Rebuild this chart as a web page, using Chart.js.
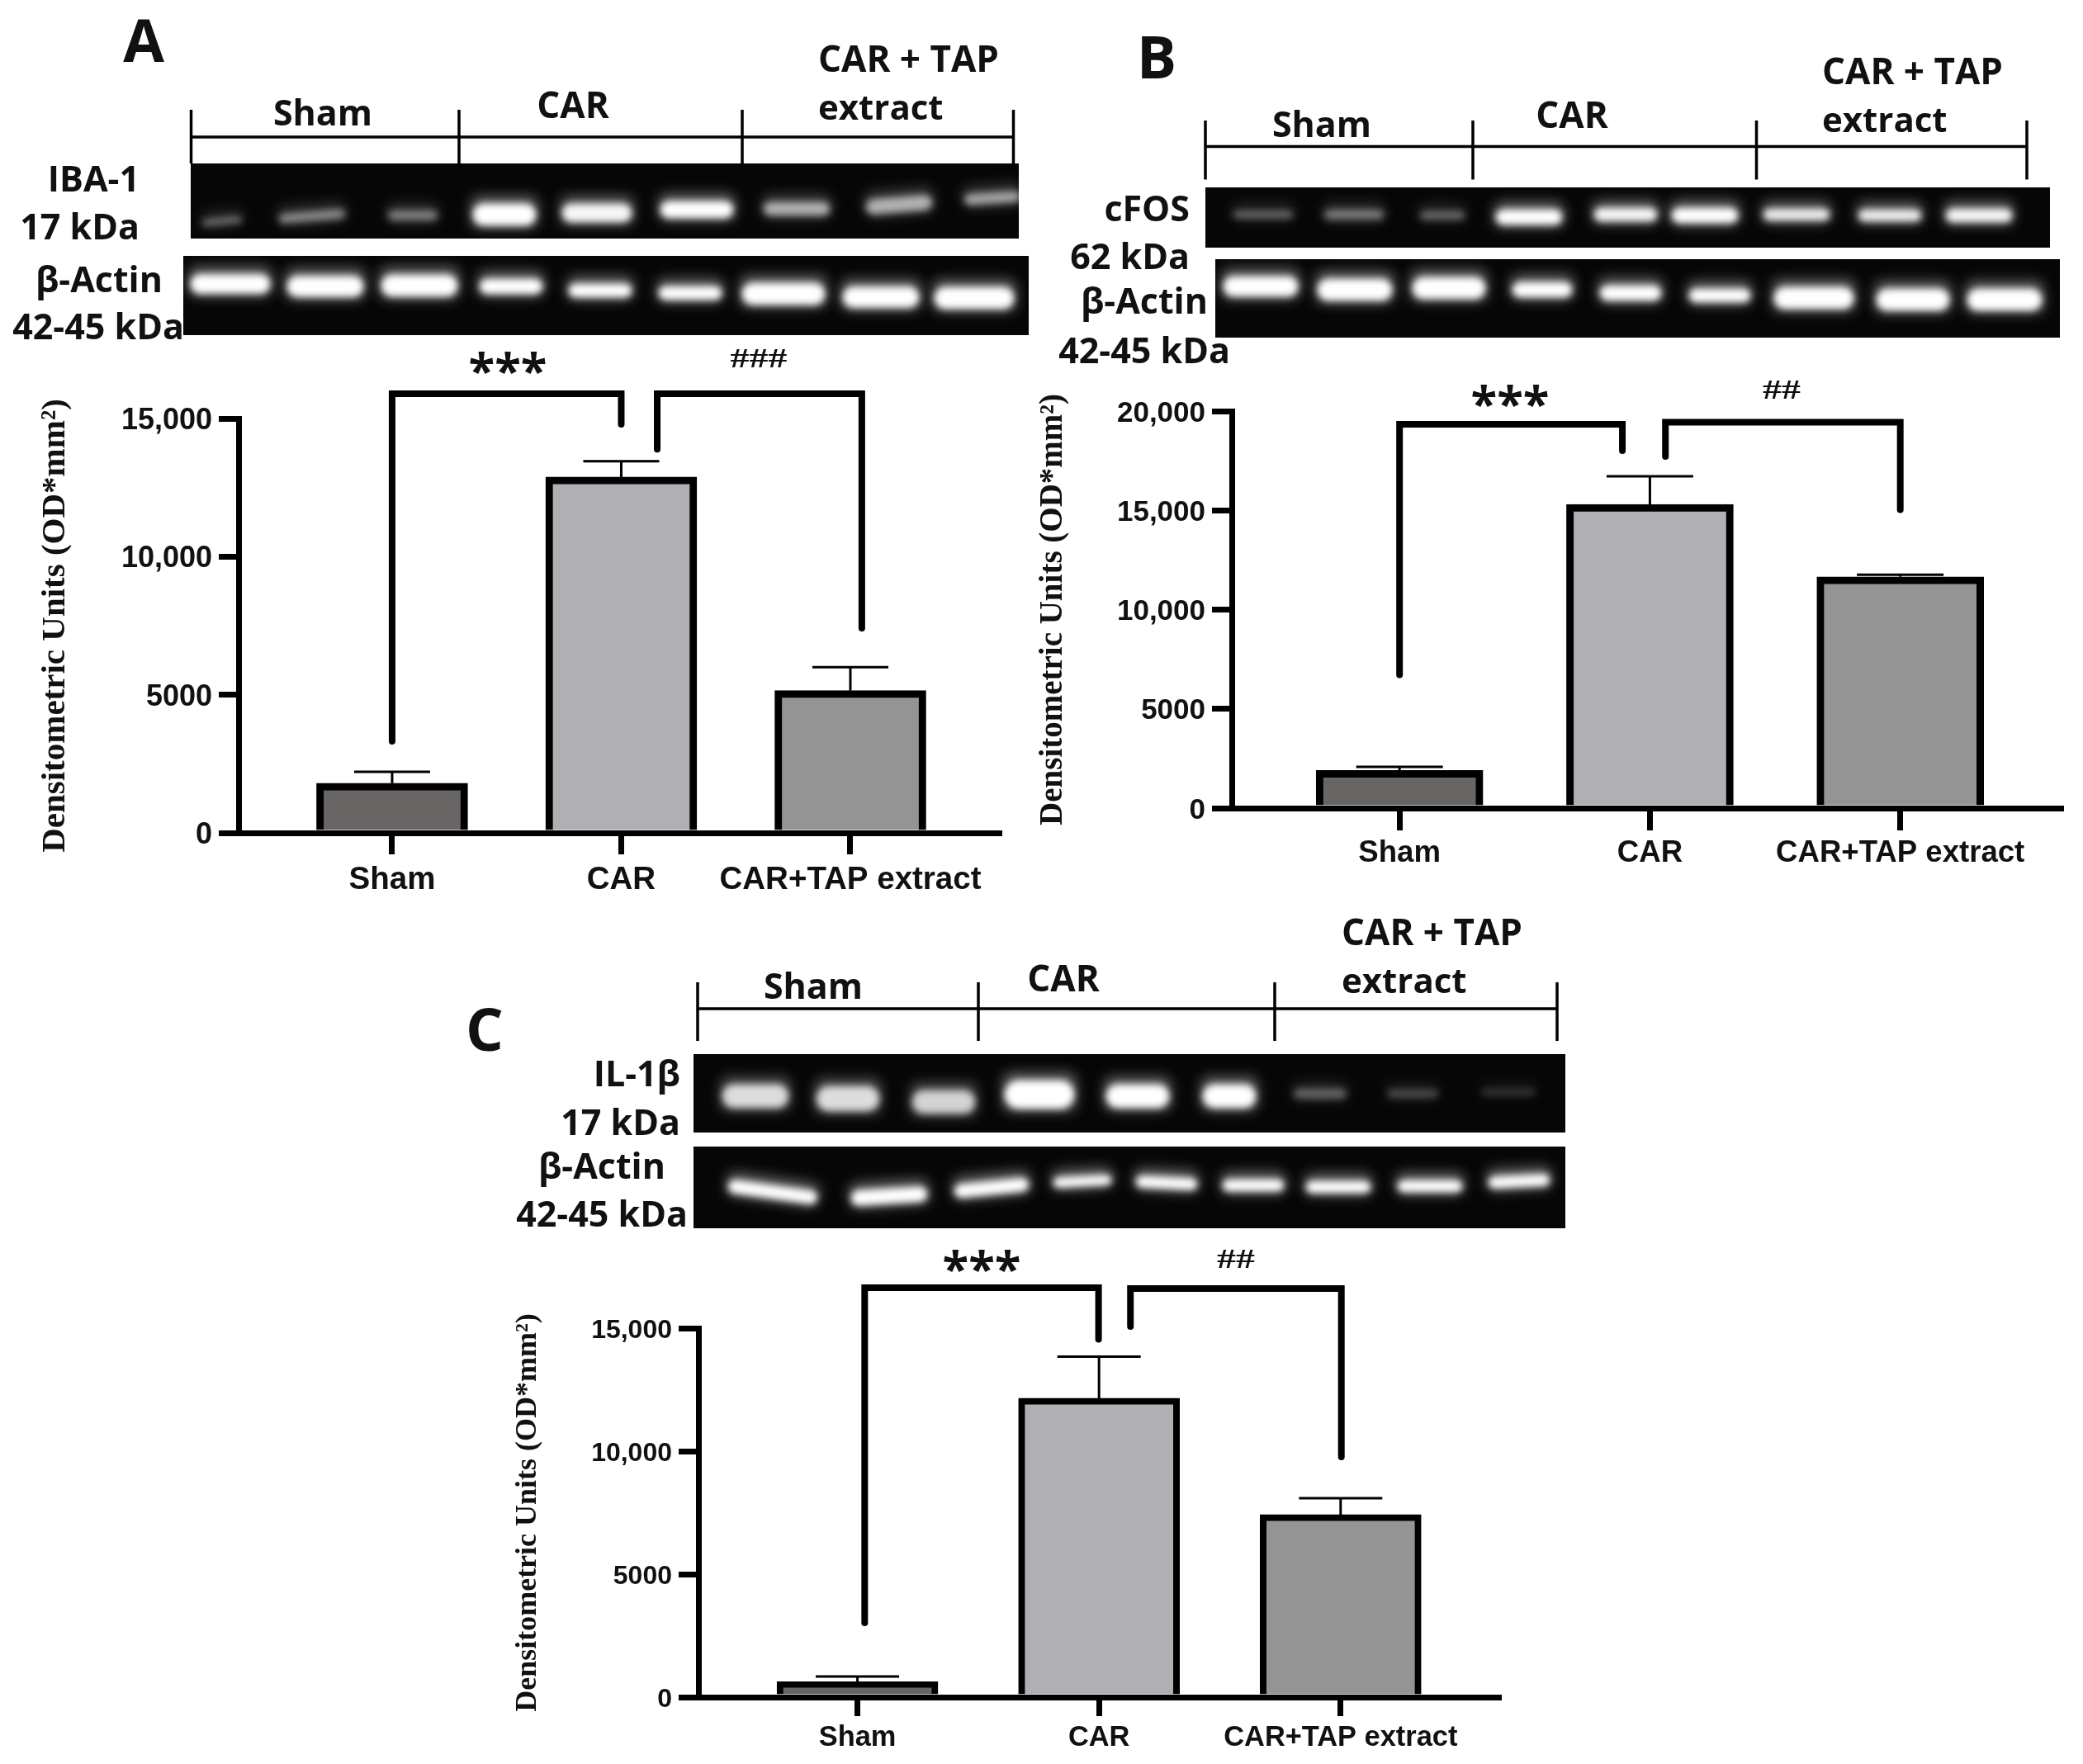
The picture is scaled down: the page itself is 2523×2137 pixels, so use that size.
<!DOCTYPE html>
<html>
<head>
<meta charset="utf-8">
<title>Densitometric units</title>
<script src="https://cdn.jsdelivr.net/npm/chart.js@4"></script>
<style>
  html, body { margin: 0; padding: 0; background: #fff; }
  #page { position: relative; width: 2523px; height: 2137px; overflow: hidden; background: #fff; }
  #page canvas { position: absolute; }
  .lbl { position: absolute; white-space: nowrap; color: #111; font-family: "Open Sans", sans-serif; font-weight: 700; line-height: 1; }
</style>
</head>
<body>
<div id="page">
  <canvas id="blots" width="2523" height="2137" style="left:0;top:0"></canvas>
  <canvas id="chartA" width="1214" height="660" style="left:0;top:440px"></canvas>
  <canvas id="chartB" width="1270" height="630" style="left:1230px;top:440px"></canvas>
  <canvas id="chartC" width="1219" height="600" style="left:600px;top:1530px"></canvas>
</div>
<script>
const categories = ['Sham', 'CAR', 'CAR+TAP extract'];
const barColors = ['#696565', '#b0afb4', '#949494'];

const valuesA = [1800, 12880, 5150];
const errorsA = [2210, 13450, 6000];
const yTicksA = [0, 5000, 10000, 15000];
const yLabelsA = ['0', '5000', '10,000', '15,000'];

const valuesB = [1900, 15300, 11650];
const errorsB = [2080, 16715, 11760];
const yTicksB = [0, 5000, 10000, 15000, 20000];
const yLabelsB = ['0', '5000', '10,000', '15,000', '20,000'];

const valuesC = [630, 12150, 7420];
const errorsC = [840, 13840, 8090];
const yTicksC = [0, 5000, 10000, 15000];
const yLabelsC = ['0', '5000', '10,000', '15,000'];

// significance brackets: x1, y1 (end of left leg), x2, y2 (end of right leg), top
const bracketsA = [[0, 3315, 1, 14790, 15895], [1.157, 13890, 2.05, 7410, 15895]];
const bracketsB = [[0, 6715, 0.89, 18004, 19335], [1.062, 17713, 2, 15031, 19434]];
const bracketsC = [[0.03, 3020, 0.998, 14547, 16644], [1.13, 15067, 2.003, 9765, 16611]];

const yTitle = 'Densitometric Units (OD*mm\u00b2)';

function makeChart(id, o) {
    return new Chart(document.getElementById(id), {
        type: 'bar',
        data: {
            datasets: [{
                data: o.values.map((v, i) => ({ x: i, y: v })),
                backgroundColor: barColors,
                borderColor: '#000',
                borderWidth: o.barLine,
                borderSkipped: 'bottom',
                barThickness: o.barWidth,
            }]
        },
        options: {
            responsive: false,
            animation: false,
            layout: { autoPadding: false, padding: { top: o.top } },
            plugins: { legend: { display: false }, tooltip: { enabled: false } },
            scales: {
                x: {
                    type: 'linear',
                    offset: false,
                    min: o.xMin,
                    max: o.xMax,
                    afterBuildTicks: s => { s.ticks = categories.map((c, i) => ({ value: i })); },
                    afterFit: s => { s.height = o.xHeight; },
                    border: { width: o.line, color: '#000', z: 1 },
                    grid: { offset: false, drawOnChartArea: false, drawTicks: true, tickLength: o.xTick, tickWidth: o.line, tickColor: '#000', lineWidth: o.line },
                    ticks: {
                        autoSkip: false, maxRotation: 0, padding: o.xPad, color: '#111',
                        font: { family: 'Liberation Sans', weight: 'bold', size: o.xFont },
                        callback: v => categories[v],
                    }
                },
                y: {
                    min: 0,
                    max: o.yTicks[o.yTicks.length - 1],
                    afterBuildTicks: s => { s.ticks = o.yTicks.map(v => ({ value: v })); },
                    afterFit: s => { s.width = o.yWidth; },
                    border: { width: o.line, color: '#000', z: 1 },
                    grid: { drawOnChartArea: false, drawTicks: true, tickLength: 24, tickWidth: o.line, tickColor: '#000', lineWidth: o.line },
                    ticks: {
                        padding: 8, color: '#111', labelOffset: 3,
                        font: { family: 'Liberation Sans', weight: 'bold', size: o.yFont },
                        callback: v => o.yLabels[o.yTicks.indexOf(v)],
                    },
                    title: {
                        display: true, text: yTitle, color: '#111',
                        font: { family: 'Liberation Serif', weight: 'bold', size: o.titleFont },
                        padding: { top: o.titlePad, bottom: 0 },
                    }
                }
            }
        },
        plugins: [{
            id: 'marks',
            afterDatasetsDraw(chart) {
                const { ctx, scales: { x, y } } = chart;
                ctx.save();
                ctx.strokeStyle = '#000';
                // error bars
                ctx.lineWidth = 3;
                o.errors.forEach((e, i) => {
                    const cx = x.getPixelForValue(i), top = y.getPixelForValue(e);
                    ctx.beginPath();
                    ctx.moveTo(cx, y.getPixelForValue(o.values[i]));
                    ctx.lineTo(cx, top);
                    ctx.moveTo(cx - o.capWidth / 2, top);
                    ctx.lineTo(cx + o.capWidth / 2, top);
                    ctx.stroke();
                });
                // brackets
                ctx.lineWidth = o.line + 1;
                ctx.lineCap = 'round';
                ctx.lineJoin = 'miter';
                o.brackets.forEach(b => {
                    ctx.beginPath();
                    ctx.moveTo(x.getPixelForValue(b[0]), y.getPixelForValue(b[1]));
                    ctx.lineTo(x.getPixelForValue(b[0]), y.getPixelForValue(b[4]));
                    ctx.lineTo(x.getPixelForValue(b[2]), y.getPixelForValue(b[4]));
                    ctx.lineTo(x.getPixelForValue(b[2]), y.getPixelForValue(b[3]));
                    ctx.stroke();
                });
                ctx.restore();
            }
        }]
    });
}

makeChart('chartA', {
    values: valuesA, errors: errorsA, brackets: bracketsA, yTicks: yTicksA, yLabels: yLabelsA,
    top: 67, xMin: -0.67, xMax: 2.663, xHeight: 91, yWidth: 289, xTick: 26, xPad: 8,
    barWidth: 183, capWidth: 92, line: 7, barLine: 9, xFont: 38.5, yFont: 36, titleFont: 41, titlePad: 43,
});
makeChart('chartB', {
    values: valuesB, errors: errorsB, brackets: bracketsB, yTicks: yTicksB, yLabels: yLabelsB,
    top: 58, xMin: -0.67, xMax: 2.654, xHeight: 91, yWidth: 262, xTick: 27, xPad: 6,
    barWidth: 202, capWidth: 105, line: 7, barLine: 9, xFont: 36.6, yFont: 35, titleFont: 39, titlePad: 23,
});
makeChart('chartC', {
    values: valuesC, errors: errorsC, brackets: bracketsC, yTicks: yTicksC, yLabels: yLabelsC,
    top: 79, xMin: -0.658, xMax: 2.667, xHeight: 74, yWidth: 246, xTick: 23, xPad: 6,
    barWidth: 195, capWidth: 101, line: 7, barLine: 8, xFont: 34.4, yFont: 32, titleFont: 36, titlePad: 18,
});

// western blot strips and group lines around the charts
const blotBoxes = [[231, 198, 1234, 289], [222, 310, 1246, 406], [1460, 227, 2483, 300], [1472, 314, 2495, 409], [840, 1277, 1896, 1372], [840, 1389, 1896, 1488]];
const blotBands = [
    // x, y, w, h, brightness, tilt
    [269, 268, 48, 10, .35, -.1], [378, 262, 80, 13, .45, -.08], [500, 261, 60, 14, .4, 0], [611, 260, 76, 28, 1, 0], [723, 258, 84, 24, .95, 0], [844, 254, 88, 22, 1, 0], [965, 253, 80, 18, .6, 0], [1089, 248, 80, 20, .6, -.08], [1202, 240, 68, 15, .55, -.06],
    [279, 344, 96, 25, 1, 0], [394, 347, 92, 27, 1, 0], [508, 346, 92, 28, 1, 0], [619, 347, 76, 20, 1, 0], [727, 352, 76, 18, 1, 0], [836, 355, 76, 18, 1, 0], [949, 356, 100, 28, 1, 0], [1067, 360, 92, 27, 1, 0], [1180, 361, 96, 28, 1, 0],
    [1530, 260, 72, 10, .35, 0], [1640, 260, 72, 13, .4, 0], [1747, 261, 54, 11, .35, 0], [1852, 263, 80, 20, 1, 0], [1969, 260, 76, 18, .95, 0], [2065, 261, 80, 20, 1, 0], [2176, 260, 80, 16, .9, 0], [2289, 261, 76, 16, .9, 0], [2397, 261, 80, 18, .95, 0],
    [1527, 347, 90, 26, 1, 0], [1641, 351, 90, 28, 1, 0], [1755, 349, 88, 28, 1, 0], [1868, 351, 72, 20, 1, 0], [1975, 355, 74, 20, 1, 0], [2083, 358, 74, 18, 1, 0], [2197, 361, 96, 28, 1, 0], [2317, 363, 88, 28, 1, 0], [2428, 363, 90, 28, 1, 0],
    [915, 1328, 80, 30, .8, 0], [1027, 1331, 76, 32, .8, 0], [1143, 1335, 76, 30, .75, 0], [1259, 1326, 84, 36, 1, 0], [1378, 1328, 76, 30, 1, 0], [1489, 1328, 64, 30, 1, 0], [1599, 1325, 64, 14, .3, 0], [1711, 1325, 62, 12, .22, 0], [1827, 1323, 66, 10, .15, 0],
    [936, 1444, 108, 18, 1, .14], [1077, 1449, 92, 20, 1, -.06], [1201, 1439, 90, 18, 1, -.1], [1311, 1431, 70, 14, 1, -.05], [1413, 1433, 74, 16, 1, .05], [1518, 1436, 74, 16, 1, 0], [1621, 1438, 78, 16, 1, 0], [1732, 1437, 78, 16, 1, 0], [1840, 1431, 74, 16, 1, -.05],
];
const groupLines = [
    [231.5, 1227.5, 166, [231.5, 556, 899, 1227.5], 133, 198],
    [1460, 2455, 177.5, [1460, 1784, 2127.5, 2455], 146, 217.5],
    [845, 1886, 1222, [845, 1185, 1544, 1886], 1190, 1261],
];

function drawBand(ctx, x, y, w, h, r, tilt) {
    ctx.save();
    ctx.translate(x, y);
    ctx.rotate(tilt);
    ctx.beginPath();
    ctx.roundRect(-w / 2, -h / 2, w, h, r);
    ctx.fill();
    ctx.restore();
}

function drawBlots() {
    const ctx = document.getElementById('blots').getContext('2d');
    ctx.fillStyle = '#060606';
    blotBoxes.forEach(b => ctx.fillRect(b[0], b[1], b[2] - b[0], b[3] - b[1]));
    blotBoxes.forEach(b => {
        ctx.save();
        ctx.beginPath();
        ctx.rect(b[0], b[1], b[2] - b[0], b[3] - b[1]);
        ctx.clip();
        blotBands.forEach(([x, y, w, h, a, tilt]) => {
            if (x < b[0] || x > b[2] || y < b[1] || y > b[3]) return;
            ctx.filter = 'blur(8px)';
            ctx.fillStyle = `rgba(255,255,255,${a * 0.4})`;
            drawBand(ctx, x, y - 3, w + 4, h + 10, 8, tilt);
            ctx.filter = 'blur(4px)';
            ctx.fillStyle = `rgba(255,255,255,${a})`;
            drawBand(ctx, x, y, w, h - 2, (h - 2) * 0.5, tilt);
        });
        ctx.restore();
    });
    ctx.filter = 'none';
    ctx.strokeStyle = '#000';
    ctx.lineWidth = 3.5;
    groupLines.forEach(([x1, x2, y, ticks, t0, t1]) => {
        ctx.beginPath();
        ctx.moveTo(x1, y);
        ctx.lineTo(x2, y);
        ticks.forEach(t => { ctx.moveTo(t, t0); ctx.lineTo(t, t1); });
        ctx.stroke();
    });
}
drawBlots();

// text, x, y (centre line), size, anchor
const labels = [
    ['A', 174, 47, 72, 'c'], ['B', 1401, 67, 72, 'c'], ['C', 587, 1245, 72, 'c'],
    ['Sham', 391, 135, 43, 'c'], ['CAR', 694, 126, 44, 'c'], ['CAR + TAP', 991, 70, 44, 'l'], ['extract', 991, 129, 42, 'l'],
    ['IBA-1', 169, 215, 43, 'r'], ['17 kDa', 169, 273, 43, 'r'], ['\u03b2-Actin', 197, 337, 43, 'r'], ['42-45 kDa', 223, 394, 43, 'r'],
    ['Sham', 1601, 149, 43, 'c'], ['CAR', 1904, 138, 44, 'c'], ['CAR + TAP', 2207, 85, 44, 'l'], ['extract', 2207, 144, 42, 'l'],
    ['cFOS', 1441, 251, 43, 'r'], ['62 kDa', 1441, 309, 43, 'r'], ['\u03b2-Actin', 1463, 363, 43, 'r'], ['42-45 kDa', 1490, 423, 43, 'r'],
    ['Sham', 985, 1193, 43, 'c'], ['CAR', 1288, 1184, 44, 'c'], ['CAR + TAP', 1625, 1128, 44, 'l'], ['extract', 1625, 1187, 42, 'l'],
    ['IL-1\u03b2', 824, 1299, 43, 'r'], ['17 kDa', 824, 1358, 43, 'r'], ['\u03b2-Actin', 806, 1411, 43, 'r'], ['42-45 kDa', 833, 1469, 43, 'r'],
    ['***', 615, 448, 58, 'c'], ['***', 1829, 488, 58, 'c'], ['***', 1189, 1536, 58, 'c'],
    ['###', 919, 434, 34, 's'], ['##', 2158, 472, 34, 's'], ['##', 1497, 1525, 34, 's'],
];

labels.forEach(([text, x, y, size, anchor]) => {
    const el = document.createElement('div');
    el.className = 'lbl';
    el.textContent = text;
    el.style.fontSize = size + 'px';
    el.style.top = y + 'px';
    el.style.left = x + 'px';
    if (anchor === 'c') el.style.transform = 'translate(-50%,-50%)';
    if (anchor === 'l') el.style.transform = 'translateY(-50%)';
    if (anchor === 'r') el.style.transform = 'translate(-100%,-50%)';
    if (anchor === 's') {
        el.style.fontFamily = '"Liberation Serif", serif';
        el.style.transform = 'translate(-50%,-50%) scaleX(1.35)';
    }
    document.getElementById('page').appendChild(el);
});
</script>
</body>
</html>
